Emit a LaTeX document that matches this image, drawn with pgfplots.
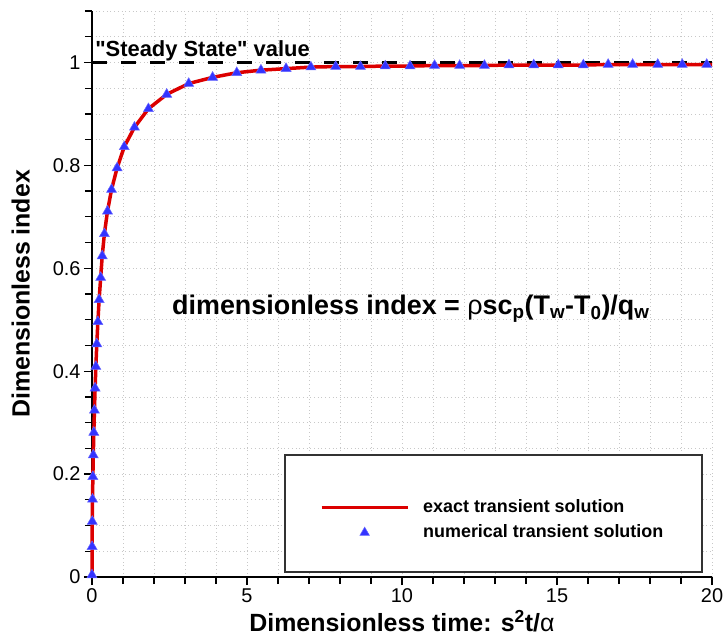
\documentclass[border=0pt]{standalone}
\usepackage{fontspec}
\setmainfont{Liberation Sans}
\newfontfamily\qfont{Liberation Sans}
\usepackage{pgfplots}
\pgfplotsset{compat=1.18}
\definecolor{myred}{RGB}{220,0,0}
\definecolor{myblue}{RGB}{51,51,255}
\definecolor{gridgray}{RGB}{200,200,200}
\begin{document}
\begin{tikzpicture}
\begin{axis}[
 scale only axis, width=620bp, height=566bp,
 xmin=0, xmax=20, ymin=0, ymax=1.1,
 axis lines*=left,
 axis line style={line width=2.7bp, black},
 xtick={0,5,10,15,20}, ytick={0,0.2,0.4,0.6,0.8,1},
 minor xtick={1,2,3,4,6,7,8,9,11,12,13,14,16,17,18,19},
 minor ytick={0.05,0.1,0.15,0.25,0.3,0.35,0.45,0.5,0.55,0.65,0.7,0.75,0.85,0.9,0.95,1.05,1.1},
 tick align=outside,
 major tick length=8bp, minor tick length=7bp,
 every tick/.style={black, line width=1.3bp},
 grid=both,
 grid style={gridgray, line width=0.7bp, dash pattern=on 0.7bp off 3bp},
 ticklabel style={font=\fontsize{20}{24}\selectfont},
 /pgf/number format/assume math mode=true,
 xlabel={\bfseries Dimensionless time: s\textsuperscript{2}t/{\mdseries α}},
 ylabel={\bfseries Dimensionless index},
 label style={font=\fontsize{25}{30}\selectfont},
 xlabel style={at={(axis description cs:0.5,-0.0777)}, anchor=center},
 ylabel style={at={(axis description cs:-0.115,0.5)}, anchor=center},
 clip=false,
 legend style={at={(rel axis cs:0.3677,0.138)}, anchor=north west, draw=none, fill=none,
   inner sep=0pt, row sep=8bp, column sep=14bp,
   font=\bfseries\fontsize{18}{21}\selectfont, cells={anchor=west},
   nodes={inner sep=0pt, text height=13bp, text depth=4bp}},
]
\addplot[black, line width=2.7bp, dash pattern=on 15bp off 14bp, forget plot] coordinates {(0,1) (20,1)};
\addplot[myred, line width=3.5bp, line join=round,
  legend image code/.code={\draw[myred, line width=3bp] (0bp,0bp) -- (86bp,0bp);}] coordinates {
(0,0) (0.0,0.004) (0.003,0.059) (0.009,0.108) (0.017,0.151) (0.028,0.195) (0.042,0.237)
(0.059,0.281) (0.079,0.324) (0.10,0.367) (0.125,0.409) (0.155,0.453) (0.19,0.496)
(0.23,0.539) (0.28,0.582) (0.33,0.624) (0.40,0.667) (0.50,0.711) (0.63,0.753)
(0.81,0.795) (1.04,0.836) (1.37,0.874) (1.82,0.910) (2.41,0.938) (3.12,0.959)
(3.89,0.971) (4.67,0.980) (5.45,0.985) (6.26,0.988) (7.06,0.991) (7.86,0.992)
(8.66,0.992) (9.46,0.993) (10.26,0.993) (11.05,0.994) (11.86,0.994) (12.66,0.994)
(13.45,0.995) (14.25,0.995) (15.04,0.995) (15.85,0.995) (16.65,0.996) (17.44,0.996)
(18.25,0.996) (19.04,0.996) (19.83,0.996) (20,0.996)};
\addplot[only marks, mark=triangle*, mark size=5.8bp,
  mark options={fill=myblue, draw=myblue!75!white, line width=0.5bp},
  legend image code/.code={\path[draw=none] (0bp,0bp) -- (86bp,0bp);
    \path plot[only marks, mark=triangle*, mark size=5.5bp, mark options={fill=myblue, draw=myblue!75!white, line width=0.5bp}] coordinates {(43bp,0bp)};}] coordinates {
(0.0,0.004) (0.003,0.059) (0.009,0.108) (0.017,0.151) (0.028,0.195) (0.042,0.237)
(0.059,0.281) (0.079,0.324) (0.10,0.367) (0.125,0.409) (0.155,0.453) (0.19,0.496)
(0.23,0.539) (0.28,0.582) (0.33,0.624) (0.40,0.667) (0.50,0.711) (0.63,0.753)
(0.81,0.795) (1.04,0.836) (1.37,0.874) (1.82,0.910) (2.41,0.938) (3.12,0.959)
(3.89,0.971) (4.67,0.980) (5.45,0.985) (6.26,0.988) (7.06,0.991) (7.86,0.992)
(8.66,0.992) (9.46,0.993) (10.26,0.993) (11.05,0.994) (11.86,0.994) (12.66,0.994)
(13.45,0.995) (14.25,0.995) (15.04,0.995) (15.85,0.995) (16.65,0.996) (17.44,0.996)
(18.25,0.996) (19.04,0.996) (19.83,0.996)};
\legend{exact transient solution, numerical transient solution}
\draw[black!80, line width=1.2bp, fill=white] (rel axis cs:0.3113,0.00883) rectangle (rel axis cs:0.9839,0.2155);
\node[anchor=base west, inner sep=0pt, font=\qfont\bfseries\fontsize{22}{26}\selectfont] at (axis cs:0.1,1.011) {"Steady State" value};
\node[anchor=base west, inner sep=0pt, font=\bfseries\fontsize{27}{32}\selectfont] at (axis cs:2.58,0.51)
 {dimensionless index = {\mdseries ρ}sc\textsubscript{p}(T\textsubscript{w}-T\textsubscript{0})/q\textsubscript{w}};
\end{axis}
\pgfresetboundingbox
\useasboundingbox (-92bp,-60bp) rectangle (632bp,577bp);
\end{tikzpicture}
\end{document}
